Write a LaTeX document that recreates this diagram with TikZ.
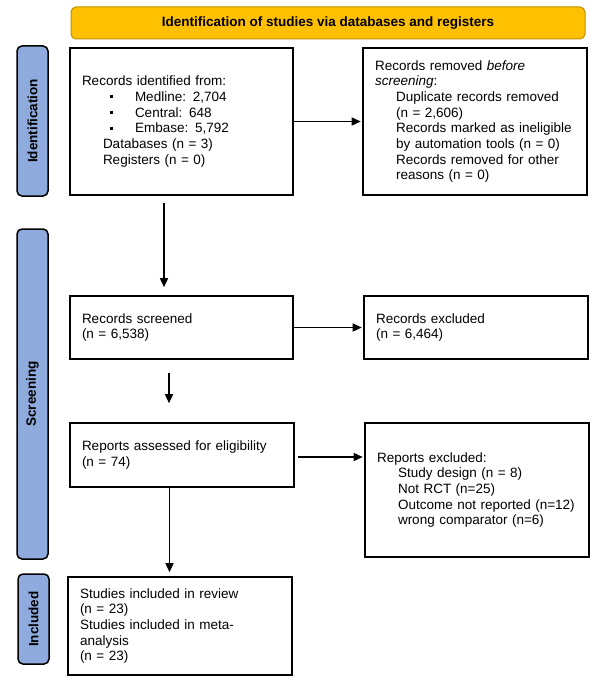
\documentclass[tikz,border=0pt]{standalone}
\usepackage{fontspec}
\setmainfont{Liberation Sans}
\usetikzlibrary{arrows.meta}
\definecolor{bannerfill}{HTML}{FFC000}
\definecolor{bannerdraw}{HTML}{BF9000}
\definecolor{barfill}{HTML}{8FAADC}
\newcommand{\sqitem}{\hspace*{28pt}\rule[3pt]{3pt}{3pt}\hspace*{22pt}}
\newcommand{\ind}{\hspace*{21pt}}

\begin{document}
\begin{tikzpicture}[x=1pt, y=-1pt,
  box/.style={draw, line width=1.6pt, align=left, inner xsep=12pt, font=\fontsize{13.5}{15.7}\selectfont},
  sidebar/.style={draw, line width=1.5pt, fill=barfill, rounded corners=5pt, rotate=90, minimum height=31pt, font=\fontsize{13.5}{15.7}\selectfont\bfseries},
  arr/.style={-{Triangle[length=9pt,width=8pt]}, line width=1.5pt}]
\useasboundingbox (0,0) rectangle (604,679);

% Banner and side bars
\node[draw=bannerdraw, fill=bannerfill, line width=1pt, rounded corners=5pt, minimum width=514pt, minimum height=32pt, font=\fontsize{13.5}{15.7}\selectfont\bfseries] (banner) at (328,23) {Identification of studies via databases and registers};
\node[sidebar, minimum width=150pt] (idbar) at (32.5,121) {Identification};
\node[sidebar, minimum width=330pt] (scrbar) at (32.5,394) {Screening};
\node[sidebar, minimum width=90pt] (incbar) at (33.5,619) {Included};

% Boxes
\node[box, text width=199pt, minimum height=147pt] (identified) at (181.5,121.5) {Records identified from:\\
\sqitem Medline: 2,704\\
\sqitem Central: 648\\
\sqitem Embase: 5,792\\
\ind Databases (n = 3)\\
\ind Registers (n = 0)};
\node[box, text width=200pt, minimum height=147pt] (removed) at (475,121.5) {Records removed \textit{before}\\
\textit{screening}:\\
\ind Duplicate records removed\\
\ind (n = 2,606)\\
\ind Records marked as ineligible\\
\ind by automation tools (n = 0)\\
\ind Records removed for other\\
\ind reasons (n = 0)};
\node[box, text width=199pt, minimum height=63pt] (screened) at (181.5,327.5) {Records screened\\(n = 6,538)};
\node[box, text width=200pt, minimum height=63pt] (excluded) at (476,327.5) {Records excluded\\(n = 6,464)};
\node[box, text width=200pt, minimum height=64pt] (assessed) at (182,455) {Reports assessed for eligibility\\(n = 74)};
\node[box, text width=200pt, minimum height=134pt] (repexcl) at (477,490) {Reports excluded:\\
\ind Study design (n = 8)\\
\ind Not RCT (n=25)\\
\ind Outcome not reported (n=12)\\
\ind wrong comparator (n=6)};
\node[box, text width=200pt, minimum height=98pt] (included) at (180,626) {Studies included in review\\
(n = 23)\\
Studies included in meta-\\
analysis\\
(n = 23)};

% Arrows
\draw[arr, shorten >=1.5pt] (identified.east) -- (removed.west);
\draw[arr, shorten <=7pt, shorten >=8pt] ([xshift=-17.5pt]identified.south) coordinate (a1) -- (a1 |- screened.north);
\draw[arr, shorten >=1.5pt] (screened.east) -- (excluded.west);
\draw[arr, shorten <=13pt, shorten >=19pt] ([xshift=-12.5pt]screened.south) coordinate (a2) -- (a2 |- assessed.north);
\draw[arr, shorten >=1.5pt] ([xshift=3pt,yshift=-2pt]assessed.east) coordinate (a3) -- (a3 -| repexcl.west);
\draw[arr, shorten >=4pt] ([xshift=-12.5pt]assessed.south) coordinate (a4) -- (a4 |- included.north);

\end{tikzpicture}
\end{document}
